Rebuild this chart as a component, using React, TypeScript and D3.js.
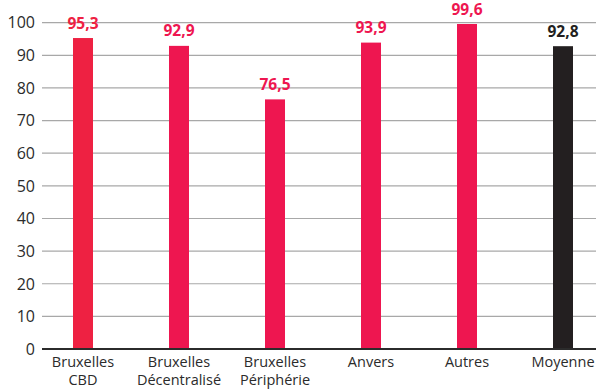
import React from "react";
import * as d3 from "d3";

const categories: string[][] = [
  ["Bruxelles", "CBD"],
  ["Bruxelles", "Décentralisé"],
  ["Bruxelles", "Périphérie"],
  ["Anvers"],
  ["Autres"],
  ["Moyenne"],
];
const values: number[] = [95.3, 92.9, 76.5, 93.9, 99.6, 92.8];
const barColors: string[] = ["#EE2142", "#EE1650", "#EE1650", "#EE1650", "#EE1650", "#231F20"];
const labelColors: string[] = ["#EE2142", "#EE1650", "#EE1650", "#EE1650", "#EE1650", "#231F20"];
const yTicks: number[] = [0, 10, 20, 30, 40, 50, 60, 70, 80, 90, 100];

const W = 596;
const H = 391;
const FONT = "'Open Sans', Lato, sans-serif";

export default function App() {
  const keys = categories.map((c) => c.join(" "));
  const x = d3.scalePoint<string>().domain(keys).range([35, 611]).padding(0.5);
  const y = d3.scaleLinear().domain([0, 100]).range([349, 22.7]);
  const barW = 20;
  const fmt = (v: number) => v.toFixed(1).replace(".", ",");

  return (
    <svg
      width={W}
      height={H}
      style={{ position: "absolute", left: 0, top: 0, background: "#fff" }}
      fontFamily={FONT}
    >
      {yTicks.map((t) => (
        <g key={t}>
          {t !== 0 && (
            <line x1={42} x2={W} y1={y(t)} y2={y(t)} stroke="#A8A8A8" strokeWidth={1.2} />
          )}
          <text
            x={35}
            y={y(t)}
            dy="0.36em"
            textAnchor="end"
            fontSize={16}
            fill="#2B2B2B"
          >
            {t}
          </text>
        </g>
      ))}
      {values.map((v, i) => {
        const cx = x(keys[i])!;
        return (
          <g key={keys[i]}>
            <rect x={cx - barW / 2} y={y(v)} width={barW} height={y(0) - y(v)} fill={barColors[i]} />
            <text
              x={cx}
              y={y(v) - 9.5}
              textAnchor="middle"
              fontSize={15.5}
              fontWeight={700}
              fill={labelColors[i]}
            >
              {fmt(v)}
            </text>
          </g>
        );
      })}
      <line x1={42} x2={W} y1={y(0)} y2={y(0)} stroke="#2B2B2B" strokeWidth={2} />
      {categories.map((lines, i) => (
        <text
          key={keys[i]}
          x={x(keys[i])!}
          y={367}
          textAnchor="middle"
          fontSize={14.5}
          fill="#2B2B2B"
        >
          {lines.map((l, j) => (
            <tspan key={j} x={x(keys[i])!} dy={j === 0 ? 0 : 18}>
              {l}
            </tspan>
          ))}
        </text>
      ))}
    </svg>
  );
}
